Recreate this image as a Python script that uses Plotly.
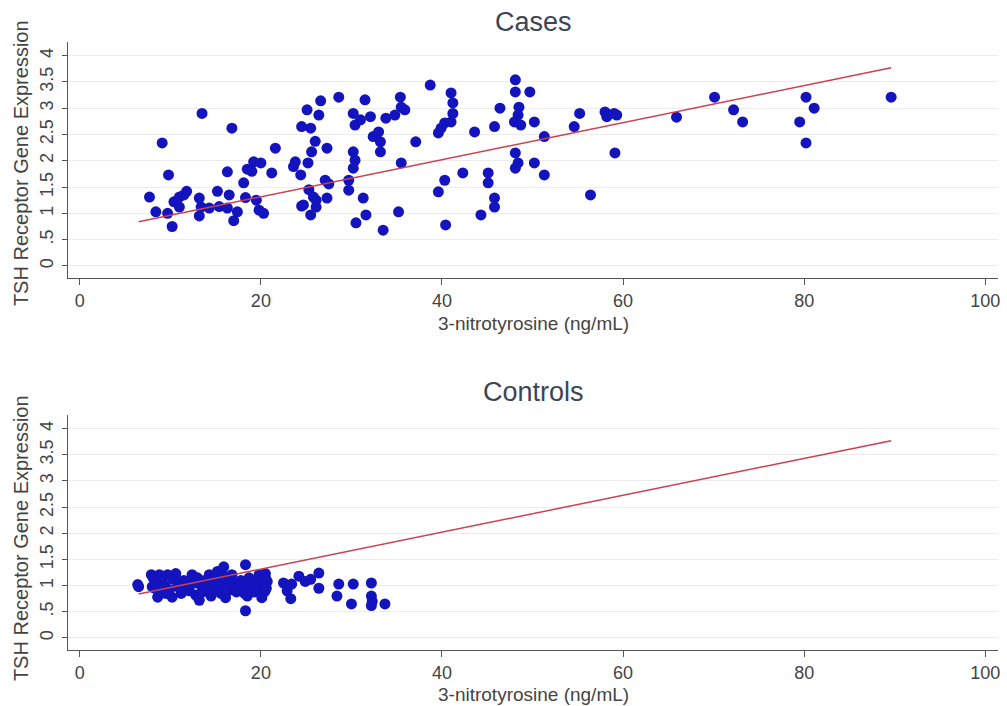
import plotly.graph_objects as go

# ---- Data ----
cases_x = [7.7, 8.4, 9.1, 9.8, 9.7, 10.2, 10.4, 11.0, 11.0, 11.5, 11.8, 13.2, 13.2, 13.5, 13.4,
           14.3, 15.2, 15.4, 16.3, 16.5, 16.8, 16.3, 17.0, 17.4, 18.1, 18.5, 18.3, 19.0, 19.2,
           19.5, 20.0, 19.8, 20.3, 21.2, 21.6, 23.6, 23.8, 24.4, 24.5, 24.5, 25.1, 25.2, 25.5,
           25.3, 25.5, 25.6, 26.0, 26.1, 26.1, 26.6, 26.4, 27.3, 27.1, 27.5, 27.3, 28.6, 29.7,
           29.7, 30.2, 30.4, 30.2, 30.2, 30.4, 31.0, 31.3, 31.5, 31.6, 30.5, 32.1, 32.4, 33.0,
           33.2, 33.2, 33.5, 33.8, 34.8, 35.4, 35.5, 35.9, 35.2, 35.5, 37.1, 38.7, 39.6, 39.6,
           39.9, 40.3, 40.4, 40.3, 41.0, 41.2, 41.2, 41.0, 42.3, 43.6, 44.3, 45.1, 45.1, 45.8,
           45.8, 45.8, 46.4, 48.1, 48.1, 48.5, 48.4, 48.0, 48.7, 48.1, 48.4, 48.1, 49.7, 50.2,
           50.2, 51.3, 51.3, 54.6, 55.2, 56.4, 58.0, 58.2, 59.0, 59.3, 59.1, 65.9, 70.1, 72.2,
           73.2, 79.5, 80.2, 81.1, 80.2, 89.6, 24.7, 25.8]
cases_y = [1.31, 1.03, 2.34, 1.73, 1.00, 0.75, 1.22, 1.12, 1.31, 1.35, 1.42, 1.29, 0.95, 2.90, 1.12,
           1.10, 1.42, 1.13, 1.79, 1.35, 2.62, 1.10, 0.86, 1.03, 1.58, 1.84, 1.30, 1.80, 1.98,
           1.25, 1.96, 1.06, 1.00, 1.77, 2.24, 1.89, 1.98, 1.73, 2.65, 1.14, 2.97, 1.96, 2.62,
           1.45, 0.97, 2.17, 2.37, 1.25, 1.12, 3.14, 2.87, 2.24, 1.63, 1.56, 1.29, 3.21, 1.63,
           1.44, 2.17, 2.01, 1.86, 2.90, 2.68, 2.78, 1.29, 3.16, 0.97, 0.82, 2.84, 2.46, 2.55,
           2.36, 2.17, 0.68, 2.81, 2.87, 3.21, 3.02, 2.97, 1.03, 1.96, 2.36, 3.44, 2.53, 1.41,
           2.62, 1.63, 0.78, 2.72, 3.29, 3.10, 2.90, 2.74, 1.77, 2.55, 0.97, 1.77, 1.58, 2.65,
           1.29, 1.12, 3.00, 3.54, 3.31, 3.02, 2.87, 2.74, 2.68, 2.15, 1.96, 1.86, 3.31, 2.74,
           1.96, 2.46, 1.73, 2.65, 2.90, 1.35, 2.93, 2.84, 2.90, 2.87, 2.15, 2.83, 3.21, 2.97,
           2.74, 2.74, 3.21, 3.00, 2.34, 3.21, 1.16, 1.31]

controls_x = [6.4, 6.5, 7.9, 8.1, 8.3, 8.6, 8.5, 8.8, 9.0, 9.1, 9.4, 9.7, 9.9, 10.2, 10.3, 10.6,
              10.8, 11.0, 11.2, 11.5, 11.8, 12.1, 12.4, 12.6, 12.8, 13.0, 13.2, 13.4, 13.6, 13.8,
              14.1, 14.3, 14.5, 14.6, 14.9, 15.0, 15.2, 15.4, 15.6, 15.8, 15.9, 16.1, 16.3, 16.5,
              16.7, 16.8, 17.0, 17.3, 17.6, 17.8, 18.0, 18.2, 18.3, 18.3, 18.5, 18.7, 18.9, 19.0,
              19.2, 19.3, 19.4, 19.6, 19.8, 19.9, 20.0, 20.1, 20.2, 20.3, 20.4, 20.5, 20.5, 20.6,
              20.7, 20.4, 20.5, 22.5, 22.9, 23.3, 23.4, 24.2, 24.9, 25.5, 26.4, 26.4, 28.6, 28.4,
              30.2, 30.0, 32.2, 32.2, 32.2, 33.7, 32.3, 8.0, 9.5, 12.0, 14.0, 16.0, 17.5, 19.1]
controls_y = [1.02, 0.98, 1.21, 1.15, 0.95, 0.78, 1.05, 1.21, 0.88, 1.08, 1.00, 1.21, 0.92, 0.78,
              1.12, 1.23, 0.98, 1.05, 0.85, 1.10, 0.95, 0.90, 1.21, 1.05, 0.82, 1.15, 0.72, 1.00,
              0.88, 1.10, 0.95, 1.21, 0.80, 1.05, 0.90, 1.18, 1.27, 1.08, 0.85, 1.00, 1.36, 0.77,
              1.15, 1.00, 0.92, 1.21, 1.05, 0.88, 0.95, 1.10, 1.00, 0.85, 1.40, 0.52, 0.80, 1.15,
              0.95, 1.05, 1.08, 0.88, 0.90, 1.00, 1.21, 0.95, 1.12, 0.77, 1.05, 1.00, 0.88, 1.23,
              1.15, 0.95, 1.08, 1.10, 0.92, 1.05, 0.90, 0.75, 1.03, 1.18, 1.08, 1.12, 1.24, 0.95,
              1.03, 0.80, 1.03, 0.65, 1.05, 0.80, 0.62, 0.65, 0.70, 0.98, 0.85, 1.02, 0.95, 1.18,
              0.92, 0.98]

fit_x = [6.5, 89.6]
fit_y = [0.84, 3.77]

y_tickvals = [0, 0.5, 1, 1.5, 2, 2.5, 3, 3.5, 4]
y_ticktext = ["0", ".5", "1", "1.5", "2", "2.5", "3", "3.5", "4"]
x_tickvals = [0, 20, 40, 60, 80, 100]

panel_titles = ["Cases", "Controls"]
x_title = "3-nitrotyrosine (ng/mL)"
y_title = "TSH Receptor Gene Expression"

# ---- Figure ----
MARKER = "#1414be"
LINE = "#cc4050"
FONT = "Liberation Sans, Arial, sans-serif"
TXT = "#444444"
TITLE_C = "#3a4656"

fig = go.Figure()

for i, (xs, ys) in enumerate([(cases_x, cases_y), (controls_x, controls_y)]):
    xa = "x" if i == 0 else "x2"
    ya = "y" if i == 0 else "y2"
    fig.add_trace(go.Scatter(x=xs, y=ys, mode="markers", xaxis=xa, yaxis=ya,
                             marker=dict(color=MARKER, size=11, line=dict(width=0)),
                             showlegend=False, hoverinfo="skip"))
    fig.add_trace(go.Scatter(x=fit_x, y=fit_y, mode="lines", xaxis=xa, yaxis=ya,
                             line=dict(color=LINE, width=1.5),
                             showlegend=False, hoverinfo="skip"))

W, H = 1007, 706
ml, mr, mt, mb = 68, 7, 42, 56
ph = H - mt - mb
pw = W - ml - mr

def dom(top_px, bot_px):
    return [(H - mb - bot_px) / ph, (H - mb - top_px) / ph]

def ypaper(px):
    return (H - mb - px) / ph

def xpaper(px):
    return (px - ml) / pw

xaxis_common = dict(range=[-1.3, 101.4], tickvals=x_tickvals, ticks="outside", ticklen=6,
                    tickcolor="#555555", showline=True, linecolor="#555555", linewidth=1,
                    showgrid=False, zeroline=False, ticklabeloverflow="allow",
                    ticklabelstandoff=0,
                    tickfont=dict(size=18, color=TXT, family=FONT))
yaxis_common = dict(range=[-0.23, 4.26], tickvals=y_tickvals, ticktext=y_ticktext, tickangle=-90,
                    ticks="outside", ticklen=5, tickcolor="#555555", showline=True,
                    linecolor="#555555", linewidth=1, showgrid=True, gridcolor="#ececec",
                    gridwidth=1, zeroline=False, ticklabelstandoff=2,
                    tickfont=dict(size=18, color=TXT, family=FONT))

def text_ann(text, xpx, ypx, size, color, angle=0):
    return dict(text=text, x=xpaper(xpx), xref="paper", y=ypaper(ypx), yref="paper",
                xanchor="center", yanchor="middle", showarrow=False, textangle=angle,
                font=dict(size=size, color=color, family=FONT))

fig.update_layout(
    width=W, height=H,
    margin=dict(l=ml, r=mr, t=mt, b=mb),
    paper_bgcolor="white", plot_bgcolor="white",
    xaxis=dict(domain=[0, 1], anchor="y", **xaxis_common),
    yaxis=dict(domain=dom(42, 278), anchor="x", **yaxis_common),
    xaxis2=dict(domain=[0, 1], anchor="y2", **xaxis_common),
    yaxis2=dict(domain=dom(415, 650), anchor="x2", **yaxis_common),
    annotations=[
        text_ann(panel_titles[0], 535, 22, 27, TITLE_C),
        text_ann(panel_titles[1], 535, 392, 27, TITLE_C),
        text_ann(x_title, 534, 323, 19, TXT),
        text_ann(x_title, 534, 694, 19, TXT),
        text_ann(y_title, 21, 163, 20, TXT, -90),
        text_ann(y_title, 21, 538, 20, TXT, -90),
    ],
)

fig.write_html("out.html", config={"displayModeBar": False},
               post_script="document.body.style.margin='0';document.body.style.overflow='hidden';")
